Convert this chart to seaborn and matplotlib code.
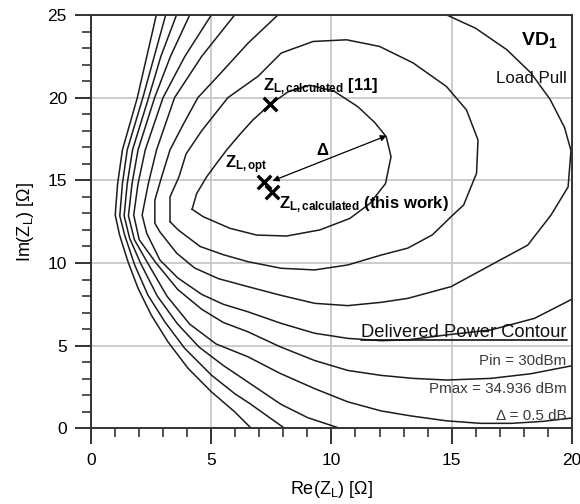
import matplotlib
matplotlib.use("Agg")
import matplotlib.pyplot as plt
import numpy as np
import pandas as pd
import seaborn as sns
from matplotlib.ticker import MultipleLocator

sns.set_theme(style="white")
plt.rcParams["font.family"] = ["Liberation Sans", "DejaVu Sans"]
plt.rcParams["mathtext.fontset"] = "custom"
plt.rcParams["mathtext.rm"] = "Liberation Sans"
plt.rcParams["mathtext.it"] = "Liberation Sans:italic"
plt.rcParams["mathtext.bf"] = "Liberation Sans:bold"

# ---------------- data ----------------
# delivered-power contours, 0.5 dB apart, innermost (c1) to outermost (c9)
c1_re = [4.20, 4.39, 4.80, 5.22, 5.64, 6.20, 6.73, 7.42, 8.19, 9.09, 10.10, 11.10, 11.80, 12.28, 12.48, 12.25, 11.60, 10.77, 9.52, 8.13, 6.88, 5.77, 4.66, 4.20]
c1_im = [13.25, 14.20, 15.20, 16.03, 16.84, 17.80, 18.65, 19.56, 20.35, 20.75, 20.40, 19.45, 18.50, 17.64, 16.43, 14.80, 13.60, 12.70, 12.00, 11.63, 11.69, 12.10, 12.80, 13.25]

c2_re = [3.28, 3.28, 3.65, 3.95, 4.60, 5.69, 6.95, 7.91, 9.24, 10.63, 12.00, 13.40, 14.79, 15.62, 16.10, 16.04, 15.50, 15.05, 14.20, 13.18, 12.07, 10.68, 9.30, 7.91, 6.52, 5.50, 4.53, 3.62, 3.28]
c2_im = [12.50, 14.00, 15.20, 16.60, 18.00, 20.00, 21.30, 22.70, 23.40, 23.50, 23.10, 22.10, 20.67, 19.26, 17.44, 15.43, 13.50, 12.90, 11.70, 10.90, 10.48, 9.88, 9.58, 9.68, 10.08, 10.50, 11.00, 12.00, 12.50]

c3_re = [7.77, 6.53, 5.40, 4.44, 3.80, 3.28, 2.93, 2.65, 2.65, 2.85, 3.56, 4.30, 5.30, 6.52, 7.85, 9.30, 10.68, 12.07, 13.18, 14.98, 16.64, 18.17, 19.14, 19.85, 19.97, 19.70, 19.10, 18.30, 17.30, 16.00, 14.80]
c3_im = [25.00, 23.30, 21.50, 20.00, 18.30, 16.84, 15.20, 13.80, 12.40, 11.90, 10.59, 9.70, 9.05, 8.57, 8.06, 7.56, 7.42, 7.62, 7.86, 8.57, 9.88, 11.08, 12.90, 14.60, 16.80, 18.20, 19.90, 21.50, 22.90, 24.20, 25.00]

c4_re = [5.97, 4.60, 3.47, 2.72, 2.38, 2.12, 2.31, 2.86, 3.60, 4.60, 5.50, 6.52, 7.90, 9.30, 10.68, 12.07, 13.18, 14.80, 16.64, 18.45, 20.00]
c4_im = [25.00, 22.50, 20.00, 16.84, 14.82, 12.90, 11.80, 10.18, 9.10, 8.10, 7.50, 7.05, 6.35, 5.75, 5.44, 5.30, 5.35, 5.65, 5.95, 6.65, 7.80]

c5_re = [5.00, 3.90, 2.99, 2.25, 1.95, 1.77, 2.00, 2.70, 3.60, 4.60, 5.50, 6.52, 7.85, 9.30, 10.68, 12.07, 13.39, 14.80, 16.64, 18.30, 20.00]
c5_im = [25.00, 22.50, 20.00, 16.84, 14.80, 12.90, 11.40, 10.00, 8.40, 7.20, 6.40, 5.84, 4.94, 4.10, 3.50, 3.20, 3.02, 2.92, 3.02, 3.30, 3.78]

c6_re = [4.10, 3.30, 2.64, 1.95, 1.70, 1.55, 1.80, 2.35, 3.15, 4.10, 5.20, 6.52, 7.85, 9.30, 10.68, 12.07, 13.30, 14.80, 16.20, 17.50, 18.80, 20.00]
c6_im = [25.00, 22.50, 20.00, 16.84, 14.80, 12.85, 11.40, 10.00, 8.00, 6.30, 5.10, 4.33, 3.33, 2.40, 1.60, 1.05, 0.75, 0.45, 0.30, 0.30, 0.42, 0.62]

c7_re = [3.55, 2.90, 2.39, 1.72, 1.50, 1.37, 1.60, 2.05, 2.75, 3.60, 4.50, 5.50, 6.52, 7.90, 9.00, 10.35]
c7_im = [25.00, 22.50, 20.00, 16.84, 14.80, 12.85, 11.50, 10.00, 8.00, 6.30, 4.90, 3.80, 2.80, 1.45, 0.65, 0.00]

c8_re = [3.10, 2.15, 1.50, 1.30, 1.19, 1.39, 1.81, 2.36, 3.06, 3.89, 5.00, 5.97, 6.60, 8.05]
c8_im = [25.00, 20.00, 16.84, 14.80, 12.85, 11.70, 9.88, 8.06, 6.45, 4.84, 3.22, 2.10, 1.50, 0.00]

c9_re = [2.71, 1.92, 1.30, 1.10, 1.00, 1.18, 1.53, 1.95, 2.50, 3.19, 4.03, 5.00, 5.97, 6.66]
c9_im = [25.00, 20.00, 16.84, 14.80, 12.90, 11.70, 10.08, 8.47, 6.85, 5.24, 3.63, 2.21, 1.00, 0.00]

# impedance points
point_names = ["Z_L,opt", "Z_L,calculated (this work)", "Z_L,calculated [11]"]
point_re = [7.20, 7.51, 7.45]
point_im = [14.92, 14.32, 19.60]

# delta arrow end (contour point)
delta_end_re = 12.30
delta_end_im = 17.70

legend_title = "Delivered Power Contour"
legend_lines = ["Pin = 30dBm", "Pmax = 34.936 dBm", "\u0394 = 0.5 dB"]

x_ticks = [0, 5, 10, 15, 20]
y_ticks = [0, 5, 10, 15, 20, 25]

# ---------------- build table ----------------
contours = {
    "c1": (c1_re, c1_im), "c2": (c2_re, c2_im), "c3": (c3_re, c3_im),
    "c4": (c4_re, c4_im), "c5": (c5_re, c5_im), "c6": (c6_re, c6_im),
    "c7": (c7_re, c7_im), "c8": (c8_re, c8_im), "c9": (c9_re, c9_im),
}
rows = []
for name, (re_, im_) in contours.items():
    for i, (a, b) in enumerate(zip(re_, im_)):
        rows.append({"contour": name, "order": i, "re": a, "im": b})
df = pd.DataFrame(rows)

# ---------------- figure ----------------
W, H = 580, 504
fig = plt.figure(figsize=(W / 100, H / 100), dpi=100)
ax = fig.add_axes([91.2 / W, 75.7 / H, (571.7 - 91.2) / W, (489 - 75.7) / H])
ax.set_facecolor("white")

ax.set_xlim(x_ticks[0], x_ticks[-1])
ax.set_ylim(y_ticks[0], y_ticks[-1])
ax.xaxis.set_major_locator(MultipleLocator(5))
ax.yaxis.set_major_locator(MultipleLocator(5))
ax.xaxis.set_minor_locator(MultipleLocator(1))
ax.yaxis.set_minor_locator(MultipleLocator(1))
ax.grid(True, which="major", color="#c8c8c8", lw=1.3, zorder=0)
ax.set_axisbelow(True)

sns.lineplot(data=df, x="re", y="im", units="contour", estimator=None, sort=False,
             color="#1c1c1c", lw=1.1, ax=ax, legend=False, zorder=2)

sns.scatterplot(x=point_re, y=point_im, marker="x", s=95, linewidth=2.4,
                color="black", ax=ax, zorder=5, legend=False)

ax.annotate("", xy=(delta_end_re, delta_end_im), xytext=(point_re[0] + 0.35, point_im[0] + 0.05),
            arrowprops=dict(arrowstyle="<|-|>", color="black", lw=0.9,
                            mutation_scale=9, shrinkA=0, shrinkB=0), zorder=6)

bold = dict(fontweight="bold", color="black", zorder=7)
ax.text(5.57, 15.73, r"$\mathbf{Z_{L,opt}}$", fontsize=12, ha="left", va="baseline", **bold)
ax.text(7.16, 20.47, r"$\mathbf{Z_{L,calculated}}$ [11]", fontsize=12, ha="left", va="baseline", **bold)
ax.text(7.82, 13.30, r"$\mathbf{Z_{L,calculated}}$ (this work)", fontsize=12, ha="left", va="baseline", **bold)
ax.text(9.6, 16.79, "\u0394", fontsize=12, ha="center", va="center", **bold)

ax.text(19.42, 23.2, r"$\mathbf{VD_1}$", fontsize=14, ha="right", va="baseline", color="black")
ax.text(19.78, 20.87, "Load Pull", fontsize=12.2, ha="right", va="baseline", color="#111111")

title_txt = ax.text(19.79, 5.53, legend_title, fontsize=13.2, ha="right", va="baseline", color="#111111", zorder=7)
for txt, yy in zip(legend_lines, [3.83, 2.15, 0.50]):
    ax.text(19.79, yy, txt, fontsize=10.9, ha="right", va="baseline", color="#3a3a3a", zorder=7)

# underline the legend title using its rendered extent
fig.canvas.draw()
bb = title_txt.get_window_extent(renderer=fig.canvas.get_renderer())
inv = ax.transData.inverted()
(ux0, _), (ux1, _) = inv.transform([(bb.x0, bb.y0), (bb.x1, bb.y0)])
uy = inv.transform([(0, bb.y0 + 1.0)])[0][1]
ax.plot([ux0, ux1], [uy, uy], color="#111111", lw=1.2, zorder=7)

ax.set_xticks(x_ticks)
ax.set_yticks(y_ticks)
ax.tick_params(which="major", direction="out", length=11.5, width=1.4, color="#333333",
               labelsize=12.5, pad=6, bottom=True, left=True, top=False, right=False, labelcolor="black")
ax.tick_params(which="minor", direction="out", length=6.8, width=1.2, color="#333333",
               bottom=True, left=True, top=False, right=False)
for s in ax.spines.values():
    s.set_visible(True)
    s.set_color("#333333")
    s.set_linewidth(1.4)

ax.set_xlabel(r"Re(Z$_\mathrm{L}$) [\u03a9]".replace("\\u03a9", "\u03a9"), fontsize=13, labelpad=8, color="black")
ax.set_ylabel(r"Im(Z$_\mathrm{L}$) [\u03a9]".replace("\\u03a9", "\u03a9"), fontsize=13, labelpad=8, color="black")

fig.savefig("out.png", dpi=100)
